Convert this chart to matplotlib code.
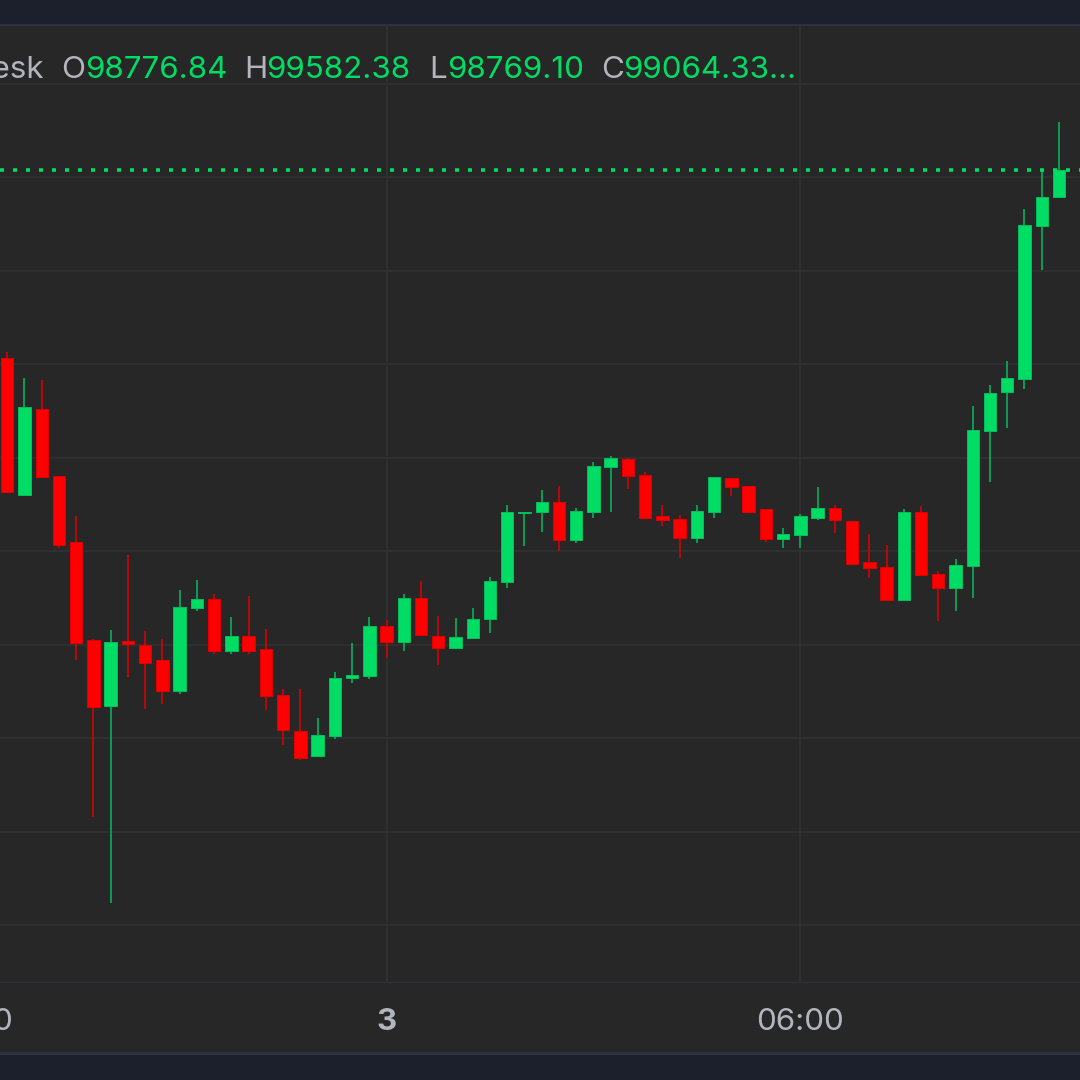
import numpy as np
import matplotlib
matplotlib.use("Agg")
import matplotlib.pyplot as plt
from matplotlib.patches import Rectangle

# 15 minute candles, counted from the "3" tick (00:00)
first_candle = -22
opens = [97053, 95591, 96511, 95788, 95082, 94034, 93335, 94024, 93987, 93820, 93489,
         94380, 94479, 93920, 94080, 93941, 93449, 93067, 92794, 93011, 93628, 93656,
         94190, 94013, 94483, 94083, 93949, 94056, 94259, 94658, 95393, 95410, 95513,
         95104, 95410, 95888, 95973, 95805, 95360, 95328, 95132, 95410, 95773, 95681,
         95435, 95118, 95160, 95346, 95453, 95313, 94868, 94818, 94468, 95406, 94743,
         94594, 94826, 96270, 96687, 96826, 98468, 98776.84]
highs = [97114, 96836, 96818, 95788, 95360, 94051, 94144, 94947, 94131, 94051, 94572,
         94682, 94529, 94280, 94511, 94158, 93510, 93510, 93207, 93699, 94002, 94280,
         94251, 94529, 94668, 94297, 94270, 94377, 94715, 95481, 95406, 95639, 95681,
         95449, 95944, 96009, 95984, 95838, 95481, 95374, 95485, 95778, 95773, 95681,
         95435, 95235, 95388, 95671, 95485, 95313, 95174, 95050, 95435, 95467, 94775,
         94901, 96543, 96762, 97021, 98650, 99060, 99582.38]
lows = [95624, 95578, 95781, 95025, 93824, 92148, 91228, 93645, 93303, 93350, 93457,
        94348, 93888, 93888, 93888, 93289, 92918, 92751, 92794, 92979, 93578, 93624,
        93842, 93920, 94091, 93767, 93949, 94056, 94116, 94594, 95040, 95196, 94993,
        95072, 95346, 95410, 95656, 95332, 95257, 94918, 95072, 95346, 95581, 95396,
        95086, 95025, 95025, 95318, 95179, 94853, 94701, 94468, 94468, 94733, 94241,
        94348, 94487, 95731, 96302, 96719, 97995, 98769.10]
closes = [95624, 96526, 95781, 95057, 94009, 93321, 94019, 93998, 93795, 93489, 94387,
          94479, 93920, 94080, 93920, 93442, 93072, 92779, 93022, 93634, 93666, 94190,
          94013, 94483, 94091, 93949, 94066, 94265, 94665, 95403, 95403, 95513, 95104,
          95420, 95898, 95987, 95795, 95346, 95318, 95132, 95420, 95778, 95671, 95410,
          95118, 95174, 95360, 95453, 95318, 94853, 94808, 94468, 95406, 94733, 94597,
          94836, 96283, 96682, 96836, 98479, 98772, 99064.33]

# gridlines, they sit a touch under the round numbers
grid_prices = [90988, 91988, 92988, 93988, 94988, 95988, 96988, 97988, 98988, 99988]
tick_positions = [-24, 0, 24]
tick_labels = ["18:00", "3", "06:00"]
tick_weights = ["normal", "bold", "normal"]
last_close = 99064.33

# legend pieces: text, left edge in pixels, colour key
legend_bits = [("O", 61, "label"), ("98776.84", 85, "value"),
               ("H", 244, "label"), ("99582.38", 266, "value"),
               ("L", 429, "label"), ("98769.10", 447, "value"),
               ("C", 601, "label"), ("99064.33…", 623, "value")]

BG = "#272727"
BAND = "#1c202c"
BORDER = "#2e323e"
GRID = "#323232"
GREEN = "#00dc64"
GREEN_WICK = "#08ab5b"
GREEN_EDGE = "#04c05e"
RED = "#ff0000"
RED_WICK = "#cc0404"
RED_EDGE = "#e00000"
TEXT = "#b2b5be"
FONT_SIZE = 22.6

plt.rcParams["font.family"] = ["Inter", "DejaVu Sans"]

fig = plt.figure(figsize=(10.8, 10.8), dpi=100, facecolor=BG)

# chart pane spans y=26..982 px
ax = fig.add_axes([0, (1080 - 982) / 1080, 1, (982 - 26) / 1080])
ax.set_facecolor(BG)
ax.set_xlim(-22.42, 40.22)
ax.set_ylim(90380, 100604)
for s in ax.spines.values():
    s.set_visible(False)
ax.set_xticks([])
ax.set_yticks([])

for p in grid_prices:
    ax.axhline(p, color=GRID, lw=1.1, zorder=1)
for t in tick_positions:
    ax.axvline(t, color=GRID, lw=1.1, zorder=1)

x_values = np.arange(first_candle, first_candle + len(opens))
body_w = 0.72
for x, o, h, l, c in zip(x_values, opens, highs, lows, closes):
    up = c >= o
    ax.vlines(x, l, h, color=GREEN_WICK if up else RED_WICK, lw=1.25, zorder=2)
    ax.add_patch(Rectangle((x - body_w / 2, min(o, c)), body_w, abs(c - o),
                           facecolor=GREEN if up else RED,
                           edgecolor=GREEN_EDGE if up else RED_EDGE,
                           lw=0.7, zorder=3))

# last price line
ax.axhline(last_close, color=GREEN, lw=2.6, linestyle=(0, (1.11, 2.49)),
           dash_capstyle="butt", zorder=4)

# x axis labels sit under the pane
for t, label, w in zip(tick_positions, tick_labels, tick_weights):
    ax.text(t, -40 / 956, label, transform=ax.get_xaxis_transform(), clip_on=False,
            ha="center", va="center", color=TEXT, fontsize=FONT_SIZE, fontweight=w)

# top and bottom bands
fig.add_artist(Rectangle((0, 1 - 24 / 1080), 1, 24 / 1080, transform=fig.transFigure,
                         facecolor=BAND, edgecolor="none"))
fig.add_artist(Rectangle((0, 1 - 26 / 1080), 1, 2 / 1080, transform=fig.transFigure,
                         facecolor=BORDER, edgecolor="none"))
fig.add_artist(Rectangle((0, 0), 1, 25 / 1080, transform=fig.transFigure,
                         facecolor=BAND, edgecolor="none"))
fig.add_artist(Rectangle((0, 25 / 1080), 1, 3 / 1080, transform=fig.transFigure,
                         facecolor=BORDER, edgecolor="none"))
fig.add_artist(Rectangle((0, (1080 - 983) / 1080), 1, 1.2 / 1080, transform=fig.transFigure,
                         facecolor="#2d3242", edgecolor="none"))

# legend line
legend_y = 1 - 77.5 / 1080
fig.text(44 / 1080, legend_y, "CoinDesk", color=TEXT, fontsize=FONT_SIZE, ha="right", va="baseline")
for text, left, kind in legend_bits:
    fig.text(left / 1080, legend_y, text, color=GREEN if kind == "value" else TEXT,
             fontsize=FONT_SIZE, ha="left", va="baseline")

fig.savefig("out.png", dpi=100, facecolor=BG)
